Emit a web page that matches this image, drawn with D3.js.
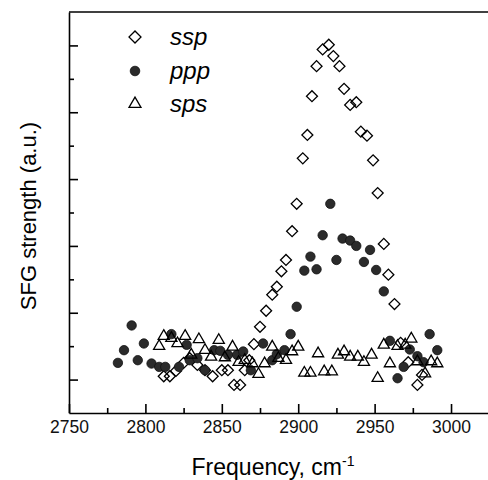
<!DOCTYPE html>
<html>
<head>
<meta charset="utf-8">
<script src="https://cdn.jsdelivr.net/npm/d3@7"></script>
<style>
  body { margin: 0; background: #fff; }
  text { font-family: "Liberation Sans", Arial, sans-serif; }
</style>
</head>
<body>
<script>
// values (frequency in cm-1, strength in a.u.)
const ssp_freq = [2812, 2816, 2820, 2825, 2829, 2834, 2839, 2844, 2850, 2854, 2858, 2862, 2865, 2868, 2871, 2875,
  2879, 2883, 2886, 2889, 2892, 2896, 2899, 2903, 2906, 2909, 2912, 2916, 2920, 2923, 2927, 2930, 2934, 2938,
  2941, 2945, 2949, 2952, 2956, 2959, 2963, 2967, 2972, 2978, 2981];
const ssp = [0.05, 0.05, 0.13, 0.25, 0.32, 0.22, 0.14, 0.05, 0.14, 0.14, -0.08, -0.08, 0.14, 0.29, 0.53, 0.79,
  1.03, 1.27, 1.39, 1.62, 1.79, 2.22, 2.63, 3.31, 3.66, 4.24, 4.69, 4.94, 5.01, 4.84, 4.69, 4.35, 4.11, 4.15,
  3.71, 3.65, 3.28, 2.79, 2.03, 1.57, 1.13, 0.55, 0.26, -0.08, 0.07];

const ppp_freq = [2782, 2786, 2791, 2795, 2799, 2804, 2809, 2813, 2817, 2822, 2827, 2829, 2834, 2839, 2845, 2849,
  2854, 2860, 2864, 2869, 2877, 2883, 2886, 2891, 2895, 2899, 2904, 2908, 2912, 2916, 2921, 2925, 2929, 2934,
  2938, 2943, 2947, 2951, 2956, 2960, 2965, 2969, 2973, 2978, 2982, 2986, 2991];
const ppp = [0.25, 0.44, 0.81, 0.29, 0.54, 0.24, 0.19, 0.19, 0.68, 0.19, 0.52, 0.29, 0.32, 0.14, 0.44, 0.43,
  0.37, 0.37, 0.42, 0.14, 0.54, 0.29, 0.38, 0.44, 0.68, 1.09, 1.63, 1.84, 1.65, 2.16, 2.63, 1.79, 2.11, 2.08,
  2.00, 1.76, 1.94, 1.64, 1.32, 0.58, 0.02, 0.19, 0.45, 0.35, 0.26, 0.68, 0.44];

const sps_freq = [2809, 2812, 2817, 2821, 2826, 2830, 2835, 2839, 2843, 2848, 2852, 2857, 2861, 2865, 2870, 2874,
  2878, 2883, 2887, 2892, 2896, 2900, 2904, 2908, 2913, 2917, 2922, 2926, 2930, 2934, 2939, 2943, 2948, 2952,
  2956, 2960, 2965, 2970, 2974, 2978, 2983, 2987, 2991];
const sps = [0.50, 0.65, 0.62, 0.54, 0.65, 0.37, 0.60, 0.44, 0.34, 0.59, 0.33, 0.49, 0.26, 0.29, 0.24, 0.08,
  0.24, 0.49, 0.32, 0.29, 0.42, 0.49, 0.10, 0.10, 0.39, 0.12, 0.12, 0.37, 0.42, 0.34, 0.34, 0.26, 0.37, 0.02,
  0.52, 0.24, 0.50, 0.52, 0.61, 0.27, 0.09, 0.27, 0.24];

const xMajor = [2750, 2800, 2850, 2900, 2950, 3000];
const xMinor = [2775, 2825, 2875, 2925, 2975];
const yMajor = [0, 1, 2, 3, 4, 5];
const yMinor = [0.5, 1.5, 2.5, 3.5, 4.5];

const legendNames = ["ssp", "ppp", "sps"];

const width = 488, height = 480;

const svg = d3.select('body').append('svg')
  .attr('width', width)
  .attr('height', height);

const x = d3.scaleLinear().domain([2750, 3024]).range([69, 487.7]);
const y = d3.scaleLinear().domain([-0.5, 5.5]).range([413, 12]);

const zip = (xs, ys) => xs.map((f, i) => ({ f: f, v: ys[i] }));

// axes, ticks pointing inward
const xAxis = svg.append('g')
  .attr('transform', `translate(0, ${y(-0.5)})`)
  .call(d3.axisBottom(x).tickValues(xMajor).tickSize(-9).tickSizeOuter(0).tickPadding(8).tickFormat(d3.format('d')));
xAxis.selectAll('text').style('font-size', '17.5px').attr('fill', '#111');
svg.append('g')
  .attr('transform', `translate(0, ${y(-0.5)})`)
  .call(d3.axisBottom(x).tickValues(xMinor).tickSize(-5).tickSizeOuter(0).tickFormat(''))
  .select('.domain').remove();

svg.append('g')
  .attr('transform', `translate(${x(2750)}, 0)`)
  .call(d3.axisLeft(y).tickValues(yMajor).tickSize(-9).tickSizeOuter(0).tickFormat(''));
svg.append('g')
  .attr('transform', `translate(${x(2750)}, 0)`)
  .call(d3.axisLeft(y).tickValues(yMinor).tickSize(-5).tickSizeOuter(0).tickFormat(''))
  .select('.domain').remove();

svg.selectAll('.domain, .tick line').attr('stroke', '#000').attr('stroke-width', 1.6);

// top frame line
svg.append('line')
  .attr('x1', x(2750)).attr('x2', width)
  .attr('y1', y(5.5)).attr('y2', y(5.5))
  .attr('stroke', '#000').attr('stroke-width', 1.6);

const diamond = d3.symbol().type(d3.symbolSquare).size(60);
const triangle = d3.symbol().type(d3.symbolTriangle).size(54);

// ssp diamonds
svg.append('g').selectAll('path')
  .data(zip(ssp_freq, ssp))
  .join('path')
  .attr('d', diamond)
  .attr('transform', d => `translate(${x(d.f)}, ${y(d.v)}) rotate(45)`)
  .attr('fill', 'none')
  .attr('stroke', '#000')
  .attr('stroke-width', 1.3);

// ppp filled circles
svg.append('g').selectAll('circle')
  .data(zip(ppp_freq, ppp))
  .join('circle')
  .attr('cx', d => x(d.f))
  .attr('cy', d => y(d.v))
  .attr('r', 4.7)
  .attr('fill', '#2b2b2b')
  .attr('stroke', '#111')
  .attr('stroke-width', 0.8);

// sps triangles
svg.append('g').selectAll('path')
  .data(zip(sps_freq, sps))
  .join('path')
  .attr('d', triangle)
  .attr('transform', d => `translate(${x(d.f)}, ${y(d.v)})`)
  .attr('fill', 'none')
  .attr('stroke', '#000')
  .attr('stroke-width', 1.3);

// legend
const leg = svg.append('g');
const legY = [37, 71, 104];
leg.append('path')
  .attr('d', d3.symbol().type(d3.symbolSquare).size(72))
  .attr('transform', `translate(135, ${legY[0]}) rotate(45)`)
  .attr('fill', 'none').attr('stroke', '#000').attr('stroke-width', 1.3);
leg.append('circle')
  .attr('cx', 135).attr('cy', legY[1]).attr('r', 4.8)
  .attr('fill', '#2b2b2b').attr('stroke', '#111').attr('stroke-width', 0.8);
leg.append('path')
  .attr('d', d3.symbol().type(d3.symbolTriangle).size(62))
  .attr('transform', `translate(135, ${legY[2]})`)
  .attr('fill', 'none').attr('stroke', '#000').attr('stroke-width', 1.3);
leg.selectAll('text')
  .data(legendNames)
  .join('text')
  .attr('x', 170)
  .attr('y', (d, i) => legY[i] + 8)
  .style('font-size', '24px')
  .style('font-style', 'italic')
  .text(d => d);

// axis titles
const xt = svg.append('text')
  .attr('x', 273)
  .attr('y', 475)
  .attr('text-anchor', 'middle')
  .style('font-size', '23px');
xt.append('tspan').text('Frequency, cm');
xt.append('tspan').attr('dy', -9).style('font-size', '14px').text('-1');

svg.append('text')
  .attr('transform', 'translate(36, 216) rotate(-90)')
  .attr('text-anchor', 'middle')
  .style('font-size', '22px')
  .text('SFG strength (a.u.)');
</script>
</body>
</html>
